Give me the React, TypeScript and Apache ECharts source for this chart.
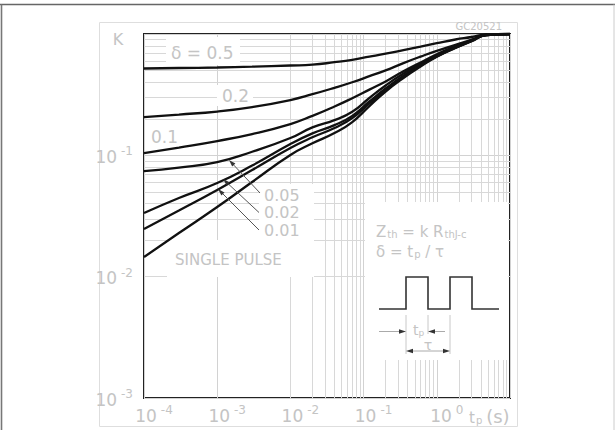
import React, { useEffect, useRef } from 'react';
import * as echarts from 'echarts';

// pulse duration (s)
const tp = [1e-4, 3e-4, 1e-3, 3e-3, 1e-2, 2e-2, 4e-2, 7e-2, 0.12, 0.2, 0.35, 0.6, 1, 1.8, 3, 4.7, 10];
// normalized thermal impedance K for each duty cycle
const kD05 = [0.5195, 0.5245, 0.5294, 0.5375, 0.5499, 0.5583, 0.5856, 0.6129, 0.65, 0.688, 0.7367, 0.7872, 0.8398, 0.901, 0.9447, 0.9943, 1.0];
const kD02 = [0.2068, 0.2169, 0.2296, 0.2501, 0.2857, 0.3189, 0.3602, 0.4005, 0.4489, 0.502, 0.5756, 0.6512, 0.7269, 0.8131, 0.8975, 0.9887, 1.0];
const kD01 = [0.1045, 0.116, 0.1312, 0.1498, 0.1811, 0.2116, 0.2525, 0.2956, 0.348, 0.4059, 0.4926, 0.5821, 0.6802, 0.7963, 0.8872, 0.9812, 1.0];
const kD005 = [0.0742, 0.0793, 0.0881, 0.1071, 0.1389, 0.1701, 0.195, 0.2287, 0.2968, 0.3762, 0.4725, 0.5671, 0.665, 0.7813, 0.8839, 0.9812, 1.0];
const kD002 = [0.03344, 0.04446, 0.0591, 0.0824, 0.124, 0.1518, 0.1774, 0.2116, 0.2777, 0.3554, 0.4539, 0.5562, 0.6587, 0.774, 0.8788, 0.9812, 1.0];
const kD001 = [0.02468, 0.03507, 0.05175, 0.07565, 0.1149, 0.1408, 0.1679, 0.203, 0.2679, 0.3454, 0.4438, 0.5478, 0.6537, 0.7696, 0.8756, 0.9812, 1.0];
const kSingle = [0.01451, 0.02288, 0.0375, 0.06025, 0.1006, 0.1256, 0.1527, 0.1881, 0.2549, 0.3357, 0.4338, 0.5396, 0.6486, 0.7667, 0.8722, 0.9812, 1.0];

const curves = [kD05, kD02, kD01, kD005, kD002, kD001, kSingle];
const curveNames = ['δ = 0.5', '0.2', '0.1', '0.05', '0.02', '0.01', 'SINGLE PULSE'];

// log grid
const xDecades = [1e-4, 1e-3, 1e-2, 1e-1, 1];
const yDecades = [1e-3, 1e-2, 1e-1];
const minorSteps = [2, 3, 4, 5, 6, 7, 8, 9];

const TXT = '#c4c4c4';
const FONT = 'DejaVu Sans';

function arrow(x1: number, y1: number, x2: number, y2: number, z: number, color = '#555') {
  const dx = x2 - x1, dy = y2 - y1;
  const L = Math.hypot(dx, dy);
  const ux = dx / L, uy = dy / L;
  const len = 7, half = 2.2;
  const bx = x2 - ux * len, by = y2 - uy * len;
  const nx = -uy, ny = ux;
  return [
    { type: 'line', z, shape: { x1, y1, x2: bx, y2: by }, style: { stroke: color, lineWidth: 1 } },
    {
      type: 'polygon', z,
      shape: { points: [[x2, y2], [bx + nx * half, by + ny * half], [bx - nx * half, by - ny * half]] },
      style: { fill: '#333' },
    },
  ];
}

export default function App() {
  const ref = useRef<HTMLDivElement>(null);
  useEffect(() => {
    if (!ref.current) return;
    const chart = echarts.init(ref.current, null, { renderer: 'svg' });

    const minorX: any[] = [];
    xDecades.forEach((d) => minorSteps.forEach((m) => minorX.push({ xAxis: d * m })));
    const minorY: any[] = [];
    yDecades.forEach((d) => minorSteps.forEach((m) => minorY.push({ yAxis: d * m })));

    const rich = {
      b: { fontSize: 17, color: TXT, fontFamily: FONT, verticalAlign: 'bottom', lineHeight: 20 },
      s: { fontSize: 12, color: TXT, fontFamily: FONT, verticalAlign: 'top', padding: [0, 0, 0, 4], lineHeight: 20 },
    };

    const box = (x: number, y: number, w: number, h: number) => ({
      type: 'rect', z: 2, shape: { x, y, width: w, height: h }, style: { fill: '#fff' }, silent: true,
    });
    const label = (text: string, x: number, y: number, size = 17, align = 'left') => ({
      type: 'text', z: 4, x, y,
      style: { text, fill: TXT, font: `${size}px "${FONT}"`, textAlign: align, textVerticalAlign: 'middle' },
    });

    const option: any = {
      animation: false,
      grid: { left: 144, top: 34, width: 366, height: 364, show: true, borderColor: '#222', borderWidth: 2, backgroundColor: '#fff' },
      xAxis: {
        type: 'log', logBase: 10, min: 1e-4, max: 10,
        axisLine: { show: false }, axisTick: { show: false },
        splitLine: { show: true, lineStyle: { color: '#d2d2d2', width: 1 } },
        axisLabel: {
          margin: 6, showMinLabel: true, showMaxLabel: true, padding: [0, 0, 0, 20],
          formatter: (v: number) => {
            const e = Math.round(Math.log10(v));
            return e >= 1 ? '' : `{b|10}{s|${e}}`;
          },
          rich,
        },
      },
      yAxis: {
        type: 'log', logBase: 10, min: 1e-3, max: 1,
        axisLine: { show: false }, axisTick: { show: false },
        splitLine: { show: true, lineStyle: { color: '#d2d2d2', width: 1 } },
        axisLabel: {
          margin: 11, showMinLabel: true,
          formatter: (v: number) => {
            const e = Math.round(Math.log10(v));
            return e >= 0 ? '' : `{b|10}{s|${e}}`;
          },
          rich,
        },
      },
      series: [
        {
          type: 'line', name: 'grid', data: [], z: 1, silent: true,
          markLine: {
            z: 1, zlevel: 0,
            silent: true, symbol: 'none', label: { show: false }, animation: false,
            lineStyle: { color: '#d8d8d8', width: 1, type: 'solid' },
            emphasis: { disabled: true },
            data: [...minorX, ...minorY],
          },
        },
        ...curves.map((k, i) => ({
          type: 'line', name: curveNames[i], z: 3,
          data: tp.map((t, j) => [t, k[j]]),
          showSymbol: false, symbol: 'none', smooth: 0.5,
          lineStyle: { color: '#111', width: 2.3 },
          silent: true,
        })),
      ],
      graphic: [
        { type: 'line', z: 0, shape: { x1: 0, y1: 4.5, x2: 615, y2: 4.5 }, style: { stroke: '#666', lineWidth: 1.6 } },
        { type: 'line', z: 0, shape: { x1: 1.5, y1: 4.5, x2: 1.5, y2: 430 }, style: { stroke: '#777', lineWidth: 1.6 } },
        { type: 'line', z: 0, shape: { x1: 614, y1: 4.5, x2: 614, y2: 430 }, style: { stroke: '#ccc', lineWidth: 1 } },
        { type: 'rect', z: 0, shape: { x: 99.5, y: 22.5, width: 418, height: 404 }, style: { fill: 'none', stroke: '#dedede', lineWidth: 1 } },
        box(166, 37, 74, 28),
        box(217, 85, 36, 21),
        box(146, 127, 34, 20),
        box(259, 184, 55, 56),
        box(167, 240, 147, 37),
        box(365, 202, 143, 158),
        label('δ = 0.5', 171, 53),
        label('0.2', 222, 96),
        label('0.1', 151, 137),
        label('0.05', 264, 195, 16),
        label('0.02', 264, 212.5, 16),
        label('0.01', 264, 230, 16),
        label('SINGLE PULSE', 175, 260, 15),
        label('K', 118, 39, 16, 'center'),
        label('GC20521', 502, 26, 10, 'right'),
        ...arrow(260, 193, 229, 160, 4),
        ...arrow(259, 212.5, 223, 179, 4),
        ...arrow(259, 230, 218, 189, 4),
        {
          type: 'text', z: 4, x: 469, y: 416,
          style: {
            text: '{a|t}{p|p}{c|(s)}', textVerticalAlign: 'middle',
            rich: {
              a: { fontSize: 15, fill: TXT, fontFamily: FONT, verticalAlign: 'bottom' },
              p: { fontSize: 10, fill: TXT, fontFamily: FONT, verticalAlign: 'bottom', padding: [0, 0, 0, 1] },
              c: { fontSize: 18, fill: TXT, fontFamily: FONT, verticalAlign: 'bottom', padding: [0, 0, 0, 4] },
            },
          },
        },
        {
          type: 'text', z: 4, x: 376, y: 232,
          style: {
            text: '{a|Z}{s|th}{a| = k R}{s|thJ-c}', textVerticalAlign: 'middle',
            rich: {
              a: { fontSize: 15, fill: TXT, fontFamily: FONT, verticalAlign: 'bottom' },
              s: { fontSize: 10, fill: TXT, fontFamily: FONT, verticalAlign: 'bottom', padding: [0, 0, 0, 1] },
            },
          },
        },
        {
          type: 'text', z: 4, x: 376, y: 252,
          style: {
            text: '{a|δ = t}{s|p}{a| / τ}', textVerticalAlign: 'middle',
            rich: {
              a: { fontSize: 15, fill: TXT, fontFamily: FONT, verticalAlign: 'bottom' },
              s: { fontSize: 10, fill: TXT, fontFamily: FONT, verticalAlign: 'bottom', padding: [0, 0, 0, 1] },
            },
          },
        },
        {
          type: 'polyline', z: 4,
          shape: { points: [[379, 309], [406, 309], [406, 277], [428, 277], [428, 309], [450, 309], [450, 277], [472, 277], [472, 309], [499, 309]] },
          style: { stroke: '#333', lineWidth: 1.6, fill: 'none' },
        },
        { type: 'line', z: 4, shape: { x1: 406, y1: 315, x2: 406, y2: 354 }, style: { stroke: '#c8c8c8', lineWidth: 1 } },
        { type: 'line', z: 4, shape: { x1: 428, y1: 315, x2: 428, y2: 334 }, style: { stroke: '#c8c8c8', lineWidth: 1 } },
        { type: 'line', z: 4, shape: { x1: 450, y1: 315, x2: 450, y2: 354 }, style: { stroke: '#c8c8c8', lineWidth: 1 } },
        ...arrow(379, 331.5, 406, 331.5, 4, '#aaa'),
        ...arrow(445, 331.5, 428, 331.5, 4, '#aaa'),
        ...arrow(428, 351, 406, 351, 4, '#aaa'),
        ...arrow(428, 351, 450, 351, 4, '#aaa'),
        {
          type: 'text', z: 4, x: 413, y: 330,
          style: {
            text: '{a|t}{s|p}', textVerticalAlign: 'middle',
            rich: {
              a: { fontSize: 14, fill: TXT, fontFamily: FONT, verticalAlign: 'bottom' },
              s: { fontSize: 9, fill: TXT, fontFamily: FONT, verticalAlign: 'bottom' },
            },
          },
        },
        label('τ', 428, 345, 14, 'center'),
      ],
    };
    chart.setOption(option);
    return () => chart.dispose();
  }, []);
  return (
    <div
      ref={ref}
      style={{ position: 'fixed', left: 0, top: 0, width: 615, height: 430, background: '#fff' }}
    />
  );
}
